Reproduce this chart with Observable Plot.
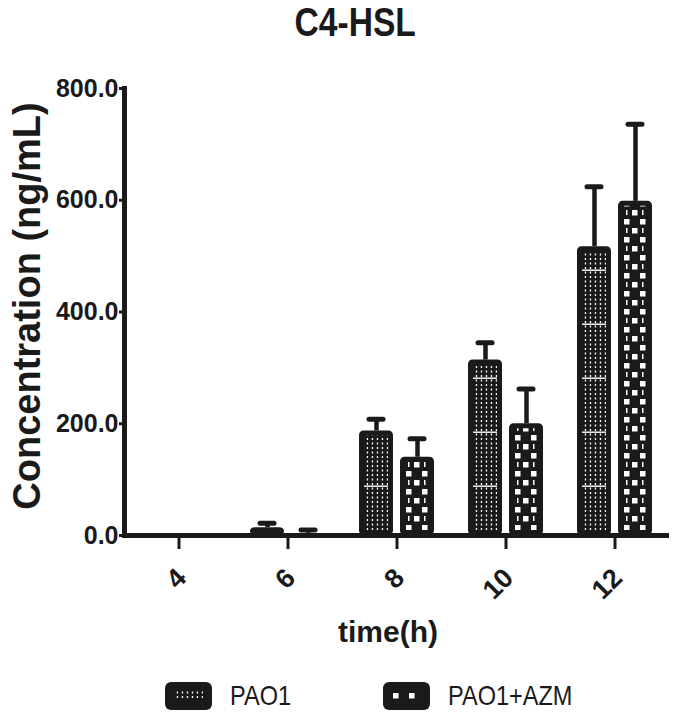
<!DOCTYPE html>
<html><head><meta charset="utf-8">
<script src="https://cdn.jsdelivr.net/npm/d3@7"></script>
<script src="https://cdn.jsdelivr.net/npm/@observablehq/plot@0.6"></script>
<style>
body{margin:0;background:#fff;}
#wrap{position:relative;width:675px;height:716px;overflow:hidden;background:#fff;color:#1a1a1a;
  font-family:"Liberation Sans",Arial,sans-serif;}
#title{position:absolute;left:0;top:0;width:675px;padding-left:36px;box-sizing:border-box;text-align:center;
  font-size:40px;font-weight:bold;line-height:45px;}
#title span{display:inline-block;transform:scaleX(0.84);transform-origin:50% 50%;}
#chart{position:absolute;left:0;top:46px;}
.item{position:absolute;top:682px;height:28px;display:flex;align-items:center;}
.item span{display:inline-block;margin-left:18px;font-size:28px;line-height:28px;transform:scaleX(0.84);transform-origin:0 50%;white-space:nowrap;}
</style></head>
<body><div id="wrap"><div id="title"><span>C4-HSL</span></div><div id="chart"></div><div id="legend"></div></div>
<script>
// ---- data ----
const times = [4, 6, 8, 10, 12];
const series = ["PAO1", "PAO1+AZM"];
const pao1Mean = [0, 14, 187, 314, 517];
const pao1Err = [0, 8, 21, 31, 107];
const azmMean = [0, 4, 140, 200, 598];
const azmErr = [0, 6, 33, 62, 138];
const yTicks = [0, 200, 400, 600, 800];

const rows = times.flatMap((t, i) => [
  {time: t, series: series[0], mean: pao1Mean[i], err: pao1Err[i]},
  {time: t, series: series[1], mean: azmMean[i], err: azmErr[i]}
]).filter(d => d.mean > 0);

const ink = "#1a1a1a";
const sans = '"Liberation Sans",Arial,sans-serif';

const chart = Plot.plot({
  width: 675, height: 624,
  marginLeft: 122, marginRight: 5, marginTop: 42, marginBottom: 135,
  style: {background: "white", color: ink, fontFamily: sans},
  fx: {domain: times, padding: 0, axis: null},
  x: {domain: series, paddingInner: 0.1667, paddingOuter: 0.388, axis: null},
  y: {domain: [0, 800], axis: null},
  marks: [
    Plot.ruleX(rows, {fx: "time", x: "series", y1: "mean", y2: d => d.mean + d.err, stroke: ink, strokeWidth: 4.5}),
    Plot.barY(rows.filter(d => d.series === series[0]), {fx: "time", x: "series", y: "mean", fill: "url(#patA)", stroke: ink, strokeWidth: 5, inset: 2.5, rx: 2}),
    Plot.barY(rows.filter(d => d.series === series[1]), {fx: "time", x: "series", y: "mean", fill: "url(#patB)", stroke: ink, strokeWidth: 5, inset: 2.5, rx: 2}),
    Plot.tickY(rows, {fx: "time", x: "series", y: d => d.mean + d.err, stroke: ink, strokeWidth: 5, strokeLinecap: "round", insetLeft: 10, insetRight: 10}),
    Plot.ruleY([0], {stroke: ink, strokeWidth: 5}),
    Plot.frame({anchor: "left", facetAnchor: "left", stroke: ink, strokeWidth: 5}),
    Plot.axisY({ticks: yTicks, tickFormat: d => d.toFixed(1), tickSize: 5, tickPadding: 1, strokeWidth: 3,
      fontSize: 25, fontWeight: "bold", label: null}),
    Plot.axisFx({anchor: "bottom", tickSize: 14, strokeWidth: 3, tickFormat: () => "", label: null}),
    Plot.text(times, {fx: d => d, text: d => String(d), frameAnchor: "bottom", rotate: -45, textAnchor: "end",
      dx: 9, dy: 44, fontSize: 27, fontWeight: "bold"}),
    Plot.text([{time: 8}], {fx: "time", text: () => "time(h)", frameAnchor: "bottom", dx: -9, dy: 106,
      fontSize: 30, fontWeight: "bold"}),
    Plot.text([{time: 4}], {fx: "time", text: () => "Concentration (ng/mL)", frameAnchor: "left", rotate: -90,
      textAnchor: "middle", dx: -97, dy: -6, fontSize: 38, fontWeight: "bold"})
  ]
});

// ---- fill patterns ----
const defs = d3.select(chart).insert("defs", ":first-child");
const pA = defs.append("pattern").attr("id", "patA").attr("patternUnits", "userSpaceOnUse").attr("width", 5).attr("height", 54);
pA.append("rect").attr("width", 5).attr("height", 54).attr("fill", ink);
for (let yy = 0.5; yy < 53; yy += 4.5) pA.append("rect").attr("x", 1.8).attr("y", yy).attr("width", 1.3).attr("height", 2).attr("fill", "#fff");
pA.append("rect").attr("x", 0).attr("y", 7.5).attr("width", 5).attr("height", 1.4).attr("fill", "#fff");
const pB = defs.append("pattern").attr("id", "patB").attr("patternUnits", "userSpaceOnUse").attr("width", 16).attr("height", 18);
pB.append("rect").attr("width", 16).attr("height", 18).attr("fill", ink);
pB.append("rect").attr("x", 2).attr("y", 2).attr("width", 5.5).attr("height", 5.5).attr("fill", "#fff");
pB.append("rect").attr("x", 10).attr("y", 11).attr("width", 5.5).attr("height", 5.5).attr("fill", "#fff");
pB.append("rect").attr("x", 12).attr("y", 2).attr("width", 1.5).attr("height", 5).attr("fill", "#fff");

document.getElementById("chart").appendChild(chart);

// ---- legend ----
const legend = document.getElementById("legend");
const legendLeft = [165, 383];
const legendPat = ["patA", "patB"];
series.forEach((s, i) => {
  const item = document.createElement("div");
  item.className = "item";
  item.style.left = legendLeft[i] + "px";
  item.innerHTML = `<svg width="47" height="28"><rect x="0" y="0" width="47" height="28" rx="6" fill="${ink}"/>` +
    `<rect x="9" y="9" width="29" height="9" fill="url(#${legendPat[i]})"/></svg><span>${s}</span>`;
  legend.appendChild(item);
});
</script>
</body></html>
